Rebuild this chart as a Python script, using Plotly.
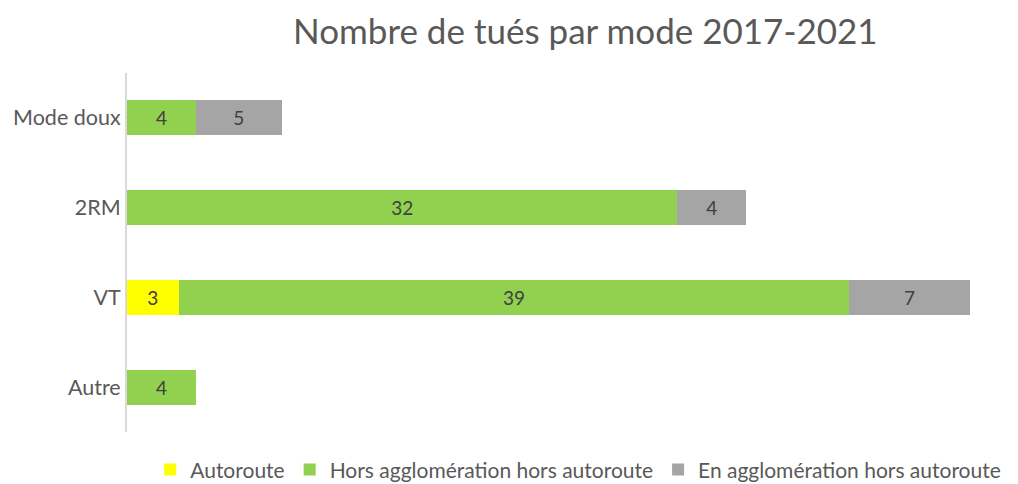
import plotly.graph_objects as go

# Categories (top to bottom) and fatalities per road type
modes = ["Mode doux", "2RM", "VT", "Autre"]
autoroute = [0, 0, 3, 0]
hors_agglo = [4, 32, 39, 4]
en_agglo = [5, 4, 7, 0]

series = [
    ("Autoroute", autoroute, "#FFFF00"),
    ("Hors agglomération hors autoroute", hors_agglo, "#92D050"),
    ("En agglomération hors autoroute", en_agglo, "#A5A5A5"),
]

FONT = "Lato"

fig = go.Figure()
for name, vals, color in series:
    fig.add_trace(go.Bar(
        y=modes,
        x=[v if v else None for v in vals],
        name=name,
        orientation="h",
        marker=dict(color=color, line=dict(width=0)),
        text=[str(v) if v else "" for v in vals],
        textposition="inside",
        insidetextanchor="middle",
        textangle=0,
        textfont=dict(family=FONT, size=19, color="#404040"),
        hoverinfo="x+y+name",
    ))

fig.update_layout(
    barmode="stack",
    bargap=0.61,
    width=1018,
    height=484,
    margin=dict(l=127, r=18, t=73, b=52, autoexpand=False),
    paper_bgcolor="white",
    plot_bgcolor="white",
    title=dict(
        text="Nombre de tués par mode 2017-2021",
        x=0.525, xanchor="center",
        xref="paper",
        y=0.935, yanchor="middle",
        font=dict(family=FONT, size=35, color="#595959"),
    ),
    xaxis=dict(
        range=[0, 50.76],
        showgrid=False, zeroline=False, showline=False,
        showticklabels=False, ticks="",
    ),
    yaxis=dict(
        categoryorder="array",
        categoryarray=modes[::-1],
        showgrid=False, zeroline=False,
        showline=True, linecolor="#D9D9D9", linewidth=2,
        ticks="", ticklen=0,
        tickfont=dict(family=FONT, size=21.5, color="#595959"),
    ),
    legend=dict(
        orientation="h",
        x=0.568, xanchor="center", xref="container",
        y=0.029, yanchor="middle", yref="container",
        font=dict(family=FONT, size=21, color="#595959"),
        itemwidth=30,
        traceorder="normal",
    ),
    showlegend=True,
    uniformtext=dict(mode="show", minsize=10),
)

fig.write_html("out.html")
